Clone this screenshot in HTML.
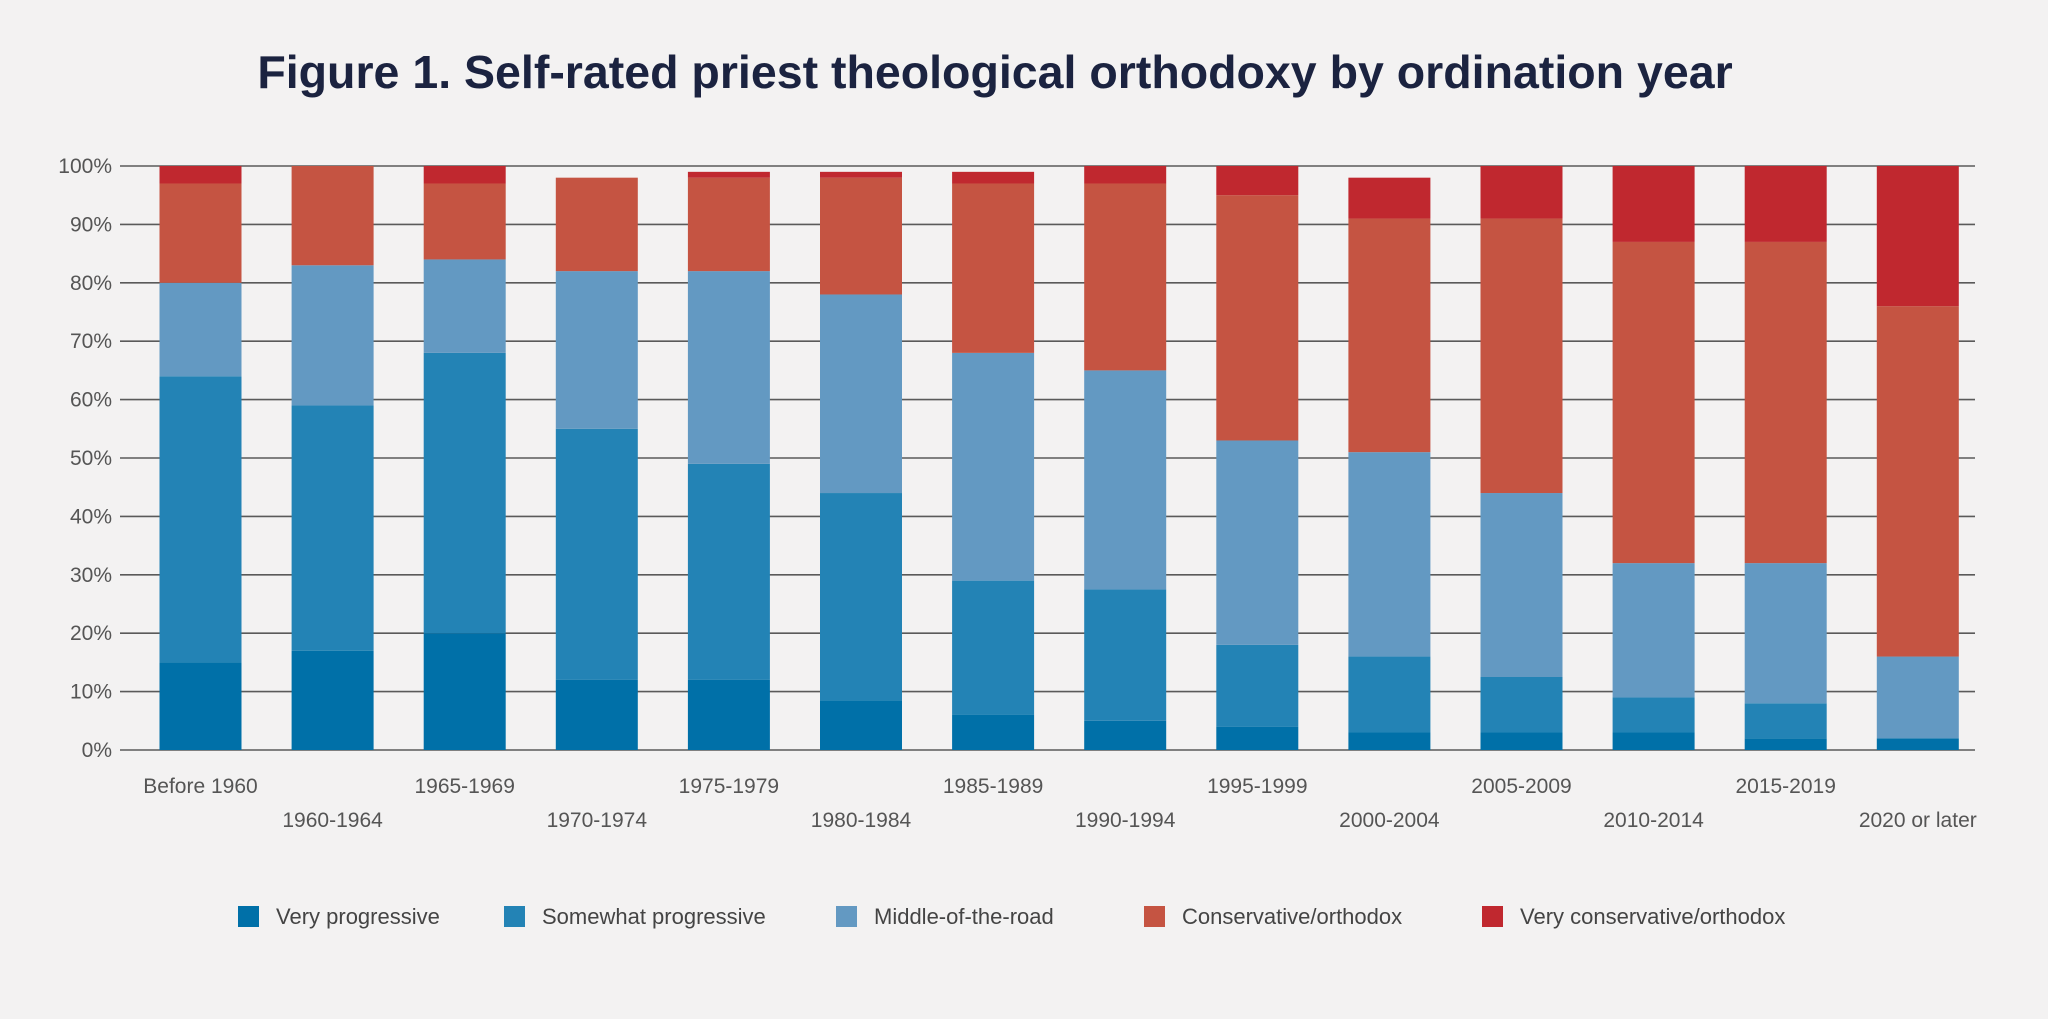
<!DOCTYPE html>
<html><head><meta charset="utf-8">
<style>
html,body{margin:0;padding:0;background:#f3f2f2;}
body{width:2048px;height:1014px;overflow:hidden;font-family:"Liberation Sans",sans-serif;}
</style></head>
<body>
<svg id="chart" width="2048" height="1014" xmlns="http://www.w3.org/2000/svg">
<rect width="2048" height="1014" fill="#f3f2f2"/>
<text x="995" y="88" text-anchor="middle" font-family="Liberation Sans, sans-serif" font-weight="bold" font-size="46.5" fill="#1b2340">Figure 1. Self-rated priest theological orthodoxy by ordination year</text>
<g id="grid"></g><g id="bars"></g><g id="xlabels"></g><g id="legend"></g>
</svg>
<script>
const categories=["Before 1960","1960-1964","1965-1969","1970-1974","1975-1979","1980-1984","1985-1989","1990-1994","1995-1999","2000-2004","2005-2009","2010-2014","2015-2019","2020 or later"];
const veryProgressive=[15,17,20,12,12,8.5,6,5,4,3,3,3,2,2];
const somewhatProgressive=[49,42,48,43,37,35.5,23,22.5,14,13,9.5,6,6,0];
const middleOfRoad=[16,24,16,27,33,34,39,37.5,35,35,31.5,23,24,14];
const conservative=[17,17,13,16,16,20,29,32,42,40,47,55,55,60];
const veryConservative=[3,0,3,0,1,1,2,3,5,7,9,13,13,24];
const seriesNames=["Very progressive","Somewhat progressive","Middle-of-the-road","Conservative/orthodox","Very conservative/orthodox"];
const yTicks=[0,10,20,30,40,50,60,70,80,90,100];

const series=[veryProgressive,somewhatProgressive,middleOfRoad,conservative,veryConservative];
const colors=["#0070a8","#2383b5","#6399c2","#c55442","#c0282f"];
const NS="http://www.w3.org/2000/svg";
const y0=750,y100=166,xL=120,xR=1975,x0=200.5,pitch=132.1,bw=82;
const yScale=v=>y0-(y0-y100)*v/100;
const xScale=i=>x0+i*pitch;
function mk(tag,attrs,parent){const e=document.createElementNS(NS,tag);for(const k in attrs)e.setAttribute(k,attrs[k]);parent.appendChild(e);return e;}
const grid=document.getElementById('grid');
yTicks.forEach(t=>{
  const l=mk('line',{x1:xL,x2:xR,y1:yScale(t),y2:yScale(t),stroke:'#5a5a5a','stroke-width':1.6},grid);
  
  
  const tx=mk('text',{x:112,y:yScale(t)+7,'text-anchor':'end','font-size':21,fill:'#555'},grid);
  tx.textContent=t+'%';
  
  
});
const bars=document.getElementById('bars');
categories.forEach((c,i)=>{
  let acc=0;
  series.forEach((s,k)=>{
    const v=s[i];if(v<=0){return;}
    const r=mk('rect',{x:xScale(i)-bw/2,y:yScale(acc+v),width:bw,height:yScale(acc)-yScale(acc+v),fill:colors[k]},bars);
    
    
    acc+=v;
  });
  const t=mk('text',{x:xScale(i),y:(i%2===0)?793:827,'text-anchor':'middle','font-size':21,fill:'#555'},document.getElementById('xlabels'));
  t.textContent=c;
  
  
});
const lg=document.getElementById('legend');
const lx=[238,504,836,1144,1482];
seriesNames.forEach((n,k)=>{
  const g=mk('g',{},lg);
  
  
  mk('rect',{x:lx[k],y:906,width:21,height:21,fill:colors[k]},g);
  const t=mk('text',{x:lx[k]+38,y:924,'font-size':22,fill:'#444'},g);
  t.textContent=n;
});
</script>
</body></html>
